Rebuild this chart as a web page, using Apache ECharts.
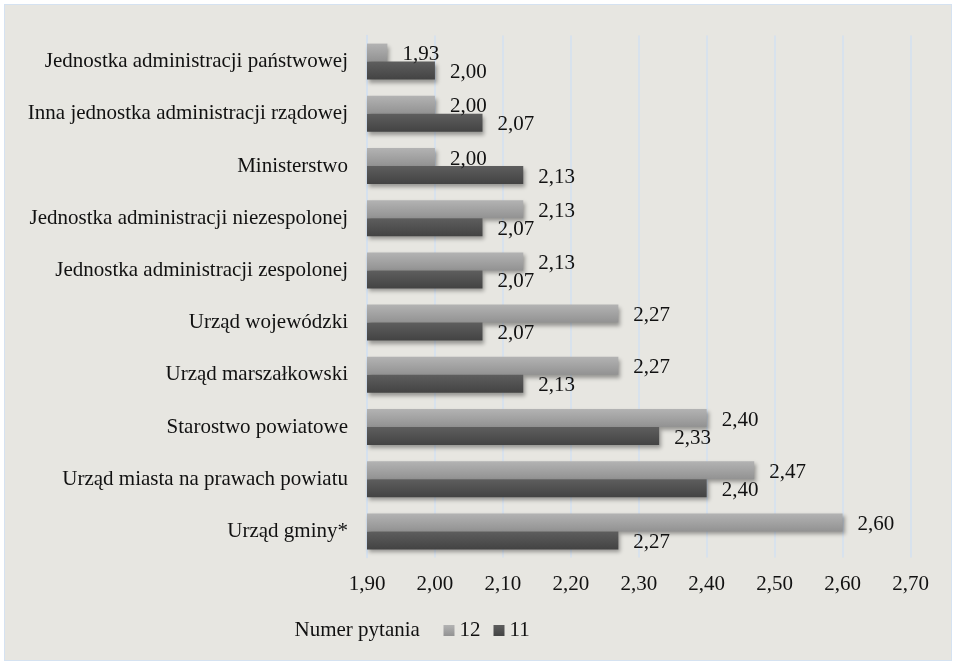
<!DOCTYPE html>
<html>
<head>
<meta charset="utf-8">
<script src="https://cdn.jsdelivr.net/npm/echarts@6/dist/echarts.min.js"></script>
<style>
  html, body { margin: 0; padding: 0; background: #fff; }
  .frame {
    position: absolute; left: 4px; top: 4px; width: 946px; height: 655px;
    border: 1.5px solid #d5e2f1; background: #e7e6e1;
  }
  #chart { width: 946px; height: 655px; }
</style>
</head>
<body>
<div class="frame"><div id="chart"></div></div>
<script>
// dane z wykresu
const categories = [
  "Jednostka administracji państwowej",
  "Inna jednostka administracji rządowej",
  "Ministerstwo",
  "Jednostka administracji niezespolonej",
  "Jednostka administracji zespolonej",
  "Urząd wojewódzki",
  "Urząd marszałkowski",
  "Starostwo powiatowe",
  "Urząd miasta na prawach powiatu",
  "Urząd gminy*"
];
const q12 = [1.93, 2.00, 2.00, 2.13, 2.13, 2.27, 2.27, 2.40, 2.47, 2.60];
const q11 = [2.00, 2.07, 2.13, 2.07, 2.07, 2.07, 2.13, 2.33, 2.40, 2.27];
const xMin = 1.9, xMax = 2.7, xStep = 0.1;

const font = "'Liberation Serif', 'Times New Roman', serif";
const fs = 21;
const fmt = v => Number(v).toFixed(2).replace(".", ",");

const mychart = echarts.init(document.getElementById("chart"));
const barStyle = (top, bottom) => ({
  color: new echarts.graphic.LinearGradient(0, 0, 0, 1, [
    { offset: 0, color: top },
    { offset: 1, color: bottom }
  ]),
  shadowColor: "rgba(0,0,0,0.35)",
  shadowBlur: 4,
  shadowOffsetX: 2,
  shadowOffsetY: 3
});
const label = {
  show: true,
  position: "right",
  distance: 15,
  offset: [0, 2],
  color: "#111",
  fontFamily: font,
  fontSize: fs,
  formatter: p => fmt(p.value)
};

const option = {
  animation: false,
  textStyle: { fontFamily: font },
  grid: { left: 362, right: 40.5, top: 30.5, bottom: 102.5 },
  xAxis: {
    type: "value",
    min: xMin,
    max: xMax,
    interval: xStep,
    axisLine: { show: false },
    axisTick: { show: false },
    axisLabel: {
      margin: 16,
      color: "#111",
      fontFamily: font,
      fontSize: fs,
      formatter: v => fmt(v)
    },
    splitLine: { lineStyle: { color: "#d3e0f0", width: 1.5 } }
  },
  yAxis: {
    type: "category",
    inverse: true,
    data: categories,
    axisTick: { show: false },
    axisLine: { lineStyle: { color: "#d3e0f0", width: 1.5 } },
    axisLabel: {
      margin: 19,
      color: "#111",
      fontFamily: font,
      fontSize: fs
    }
  },
  legend: {
    top: 615,
    left: 438.5,
    padding: 0,
    itemWidth: 11,
    itemHeight: 11,
    itemGap: 13,
    icon: "rect",
    textStyle: { color: "#111", fontFamily: font, fontSize: fs, padding: [0, 0, 0, 0] },
    data: ["12", "11"]
  },
  graphic: [{
    type: "text",
    x: 289.5,
    y: 625.5,
    style: {
      text: "Numer pytania",
      fill: "#111",
      font: fs + "px " + font,
      verticalAlign: "middle"
    }
  }],
  series: [
    {
      name: "12",
      type: "bar",
      data: q12,
      barGap: "0%",
      barCategoryGap: "31%",
      itemStyle: barStyle("#b3b3b3", "#929292"),
      label: label
    },
    {
      name: "11",
      type: "bar",
      data: q11,
      itemStyle: barStyle("#5e5e5e", "#434343"),
      label: label
    }
  ]
};
mychart.setOption(option);
</script>
</body>
</html>
